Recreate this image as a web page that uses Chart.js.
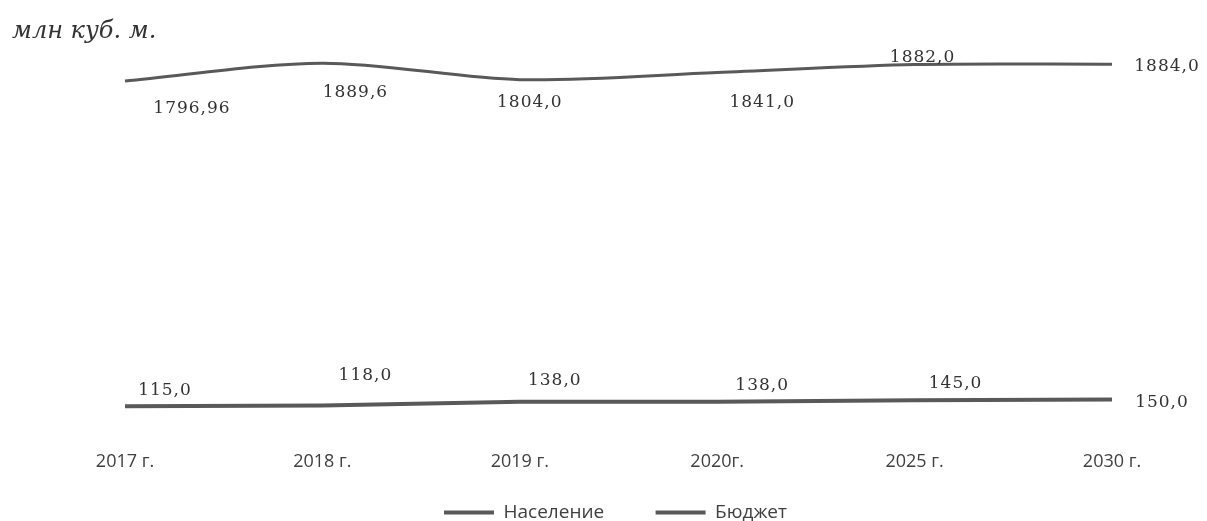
<!DOCTYPE html>
<html>
<head>
<meta charset="utf-8">
<script src="https://cdn.jsdelivr.net/npm/chart.js@4.4.1/dist/chart.umd.min.js"></script>
<style>
  html, body { margin: 0; padding: 0; background: #fff; }
  #wrap { width: 1207px; height: 521px; }
</style>
</head>
<body>
<div id="wrap"><canvas id="chart"></canvas></div>
<script>
// данные графика
const years = ["2017 г.", "2018 г.", "2019 г.", "2020г.", "2025 г.", "2030 г."];
const population = [1796.96, 1889.6, 1804.0, 1841.0, 1882.0, 1884.0];
const budget = [115.0, 118.0, 138.0, 138.0, 145.0, 150.0];
const populationLabels = ["1796,96", "1889,6", "1804,0", "1841,0", "1882,0", "1884,0"];
const budgetLabels = ["115,0", "118,0", "138,0", "138,0", "145,0", "150,0"];

// сдвиг подписей значений относительно точки [dx, dy]
const popLabelShift = [[67, 28], [33, 29], [10, 23], [45, 30], [8, -7], [55, 2]];
const budLabelShift = [[40, -16], [43, -30], [35, -21], [45, -16], [41, -17], [50, 3]];

const LINE_COLOR = "#595959";

// подписи значений (без datalabels-плагина)
const valueLabels = {
  id: "valueLabels",
  afterDatasetsDraw(chart) {
    const ctx = chart.ctx;
    ctx.save();
    ctx.font = '17px "DejaVu Serif"';
    ctx.letterSpacing = "1px";
    ctx.fillStyle = "#333";
    ctx.textAlign = "center";
    ctx.textBaseline = "middle";
    [[populationLabels, popLabelShift], [budgetLabels, budLabelShift]].forEach(([texts, shift], i) => {
      chart.getDatasetMeta(i).data.forEach((pt, j) => {
        ctx.fillText(texts[j], pt.x + shift[j][0], pt.y + shift[j][1]);
      });
    });
    ctx.restore();
  }
};

new Chart(document.getElementById("chart"), {
  type: "line",
  data: {
    labels: years,
    datasets: [
      {
        label: "Население",
        data: population,
        borderColor: LINE_COLOR,
        backgroundColor: LINE_COLOR,
        borderWidth: 3,
        pointRadius: 0,
        tension: 0.3
      },
      {
        label: "Бюджет",
        data: budget,
        borderColor: LINE_COLOR,
        backgroundColor: LINE_COLOR,
        borderWidth: 4,
        pointRadius: 0,
        tension: 0
      }
    ]
  },
  options: {
    responsive: true,
    maintainAspectRatio: false,
    animation: false,
    layout: { padding: { left: 12, right: -12, top: 0, bottom: -11 } },
    scales: {
      x: {
        grid: { display: false, drawTicks: false },
        border: { display: false },
        ticks: {
          font: { family: '"Open Sans"', size: 18 },
          color: "#404040",
          padding: 23,
          maxRotation: 0
        }
      },
      y: {
        min: 0,
        max: 2000,
        grid: { display: false },
        border: { display: false },
        ticks: { display: false },
        afterFit(s) { s.width = 113; }
      },
      y2: {
        position: "right",
        grid: { display: false },
        border: { display: false },
        ticks: { display: false },
        afterFit(s) { s.width = 107; }
      }
    },
    plugins: {
      tooltip: { enabled: false },
      title: {
        display: true,
        text: "млн куб. м.",
        align: "start",
        color: "#333",
        font: { family: '"DejaVu Serif"', size: 24, style: "italic", weight: "normal" },
        padding: { top: 17, bottom: -4 }
      },
      legend: {
        position: "bottom",
        labels: {
          font: { family: '"Open Sans"', size: 19 },
          color: "#404040",
          boxWidth: 50,
          boxHeight: 4,
          padding: 7,
          generateLabels(chart) {
            const items = Chart.defaults.plugins.legend.labels.generateLabels(chart);
            items.forEach(it => { it.lineWidth = 0; });
            // дополнительный отступ между элементами легенды
            items[0].text += "\u00A0".repeat(9);
            return items;
          }
        }
      }
    }
  },
  plugins: [valueLabels]
});
</script>
</body>
</html>
